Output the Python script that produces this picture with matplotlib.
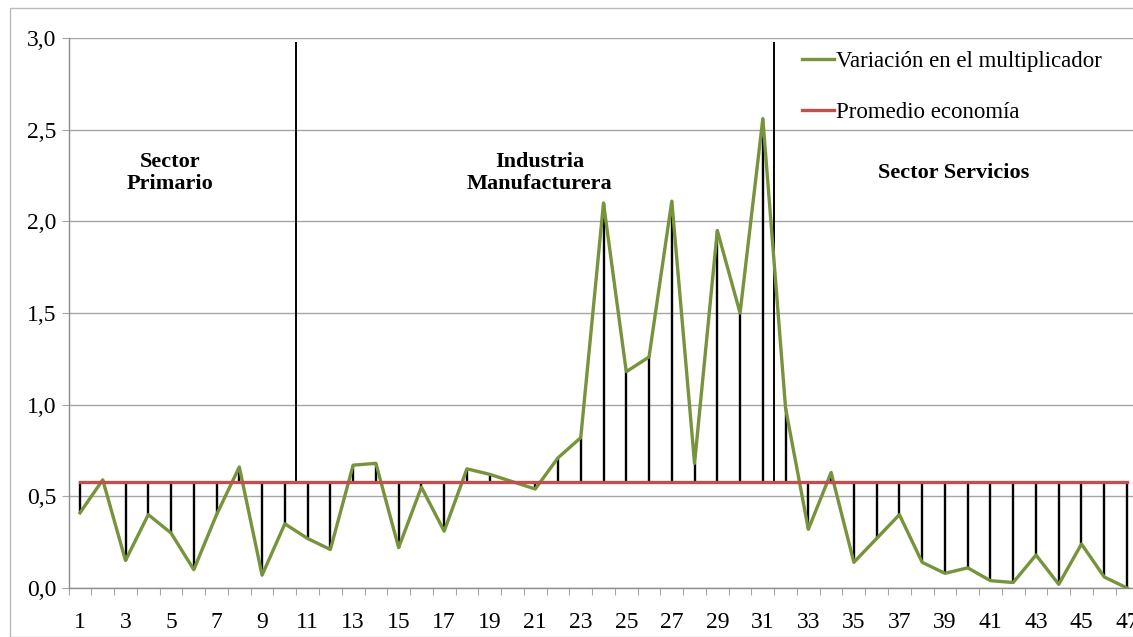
import numpy as np
import matplotlib.pyplot as plt
from matplotlib.patches import Rectangle

plt.rcParams['font.family'] = ['Liberation Serif', 'DejaVu Serif']

# sectors 1..47
sectors = list(range(1, 48))
variation = [0.41, 0.59, 0.15, 0.40, 0.30, 0.10, 0.40, 0.66, 0.07, 0.35,
             0.27, 0.21, 0.67, 0.68, 0.22, 0.55, 0.31, 0.65, 0.62, 0.58,
             0.54, 0.71, 0.82, 2.10, 1.18, 1.26, 2.11, 0.68, 1.95, 1.50,
             2.56, 0.98, 0.32, 0.63, 0.14, 0.27, 0.40, 0.14, 0.08, 0.11,
             0.04, 0.03, 0.18, 0.02, 0.24, 0.06, 0.00]
economy_mean = 0.58
separators = [10.5, 31.5]
separator_top = 2.98
sector_labels = ["Sector\nPrimario", "Industria\nManufacturera", "Sector Servicios"]
sector_label_x = [4.95, 21.2, 39.4]
sector_label_y = [2.265, 2.265, 2.265]

green = "#77933C"
red = "#C0504D"

fig = plt.figure(figsize=(11.33, 6.37), dpi=100)
fig.patches.append(Rectangle((10 / 1133, 0), 1.5, 1 - 8 / 637, transform=fig.transFigure,
                             fill=False, edgecolor="#BBBBBB", linewidth=1.0))
ax = fig.add_axes([68.6 / 1133, 49 / 637, 1069.8 / 1133, 550 / 637])

x = np.array(sectors)
y = np.array(variation)

# high-low lines between series and average
ax.vlines(x, np.minimum(y, economy_mean), np.maximum(y, economy_mean),
          colors="black", linewidth=1.7, zorder=2)
ax.vlines(separators, economy_mean, separator_top, colors="black", linewidth=1.4, zorder=2)

ax.plot(x, y, color=green, linewidth=2.4, label="Variación en el multiplicador", zorder=3)
ax.plot(x, [economy_mean] * len(x), color=red, linewidth=2.4, label="Promedio economía", zorder=3)

for lab, lx, ly in zip(sector_labels, sector_label_x, sector_label_y):
    ax.text(lx, ly, lab, ha="center", va="center", fontsize=16, fontweight="bold",
            linespacing=1.15)

ax.set_xlim(0.5, 47.5)
ax.set_ylim(0, 3)
yt = np.arange(0, 3.01, 0.5)
ax.set_yticks(yt)
ax.set_yticklabels([("%.1f" % v).replace(".", ",") for v in yt], fontsize=17)
ax.yaxis.grid(True, color="#A6A6A6", linewidth=1.0)
ax.set_axisbelow(True)

ax.set_xticks(np.arange(0.5, 48, 1.0))
ax.set_xticklabels([])
ax.set_xticks(x[::2], minor=True)
ax.set_xticklabels([str(v) for v in x[::2]], minor=True, fontsize=17)
ax.tick_params(axis="x", which="major", length=5, color="#A6A6A6", direction="out")
ax.tick_params(axis="x", which="minor", length=0, pad=17)
ax.tick_params(axis="y", length=5, color="#A6A6A6", pad=4)

for s in ["top", "right"]:
    ax.spines[s].set_visible(False)
for s in ["left", "bottom"]:
    ax.spines[s].set_color("#8C8C8C")
    ax.spines[s].set_linewidth(1.0)

ax.legend(loc="upper left", bbox_to_anchor=(802 / 1133, 1 - 51 / 637),
          bbox_transform=fig.transFigure, frameon=False, fontsize=16.5,
          handlelength=1.4, handletextpad=0.1, labelspacing=1.3,
          borderpad=0, borderaxespad=0)

fig.savefig("out.png", dpi=100)
